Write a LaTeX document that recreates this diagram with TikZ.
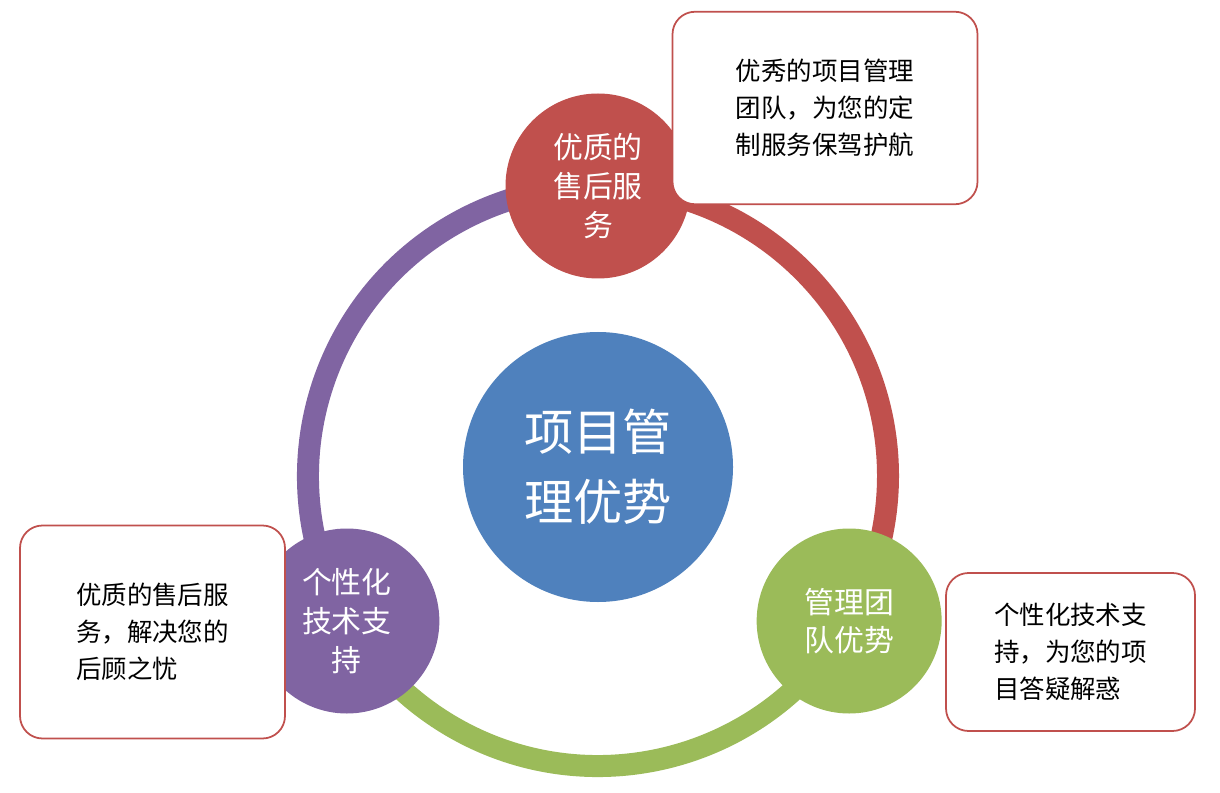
\documentclass[tikz,border=0pt]{standalone}
\usepackage{fontspec}
\setmainfont{Noto Sans CJK SC}
\usetikzlibrary{calc}
\definecolor{cred}{HTML}{C0504D}
\definecolor{cgreen}{HTML}{9BBB59}
\definecolor{cpurple}{HTML}{8064A2}
\definecolor{cblue}{HTML}{4F81BD}
\tikzset{
  ball/.style={circle, minimum size=3.7cm, inner sep=0pt, text=white, align=center, font=\fontsize{17}{22}\selectfont},
  note/.style={draw=cred, line width=1pt, rounded corners=0.45cm, fill=white, align=left, font=\fontsize{14.5}{21}\selectfont}
}
\begin{document}
\begin{tikzpicture}
\useasboundingbox (0,0) rectangle (24.4,15.84);
\coordinate (O) at (11.96,6.32);
% ring
\draw[cred, line width=0.44cm] (O) ++(90:5.8) arc[start angle=90, end angle=-30, radius=5.8];
\draw[cgreen, line width=0.44cm] (O) ++(-30:5.8) arc[start angle=-30, end angle=-150, radius=5.8];
\draw[cpurple, line width=0.44cm] (O) ++(210:5.8) arc[start angle=210, end angle=90, radius=5.8];
% circles
\node[ball, fill=cblue, minimum size=5.4cm, font=\fontsize{28}{40}\selectfont] (core) at (11.96,6.5) {项目管\\理优势};
\node[ball, fill=cred] (top) at ($(O)+(90:5.8)$) {优质的\\售后服\\务};
\node[ball, fill=cgreen] (right) at ($(O)+(-30:5.8)$) {管理团\\队优势};
\node[ball, fill=cpurple] (left) at ($(O)+(210:5.8)$) {个性化\\技术支\\持};
% notes
\node[note, minimum width=6.1cm, minimum height=3.85cm] (ntop) at (16.5,13.68) {优秀的项目管理\\团队，为您的定\\制服务保驾护航};
\node[note, minimum width=4.98cm, minimum height=3.16cm] (nright) at (21.41,2.8) {个性化技术支\\持，为您的项\\目答疑解惑};
\node[note, minimum width=5.3cm, minimum height=4.26cm] (nleft) at (3.05,3.2) {优质的售后服\\务，解决您的\\后顾之忧};
\end{tikzpicture}
\end{document}
